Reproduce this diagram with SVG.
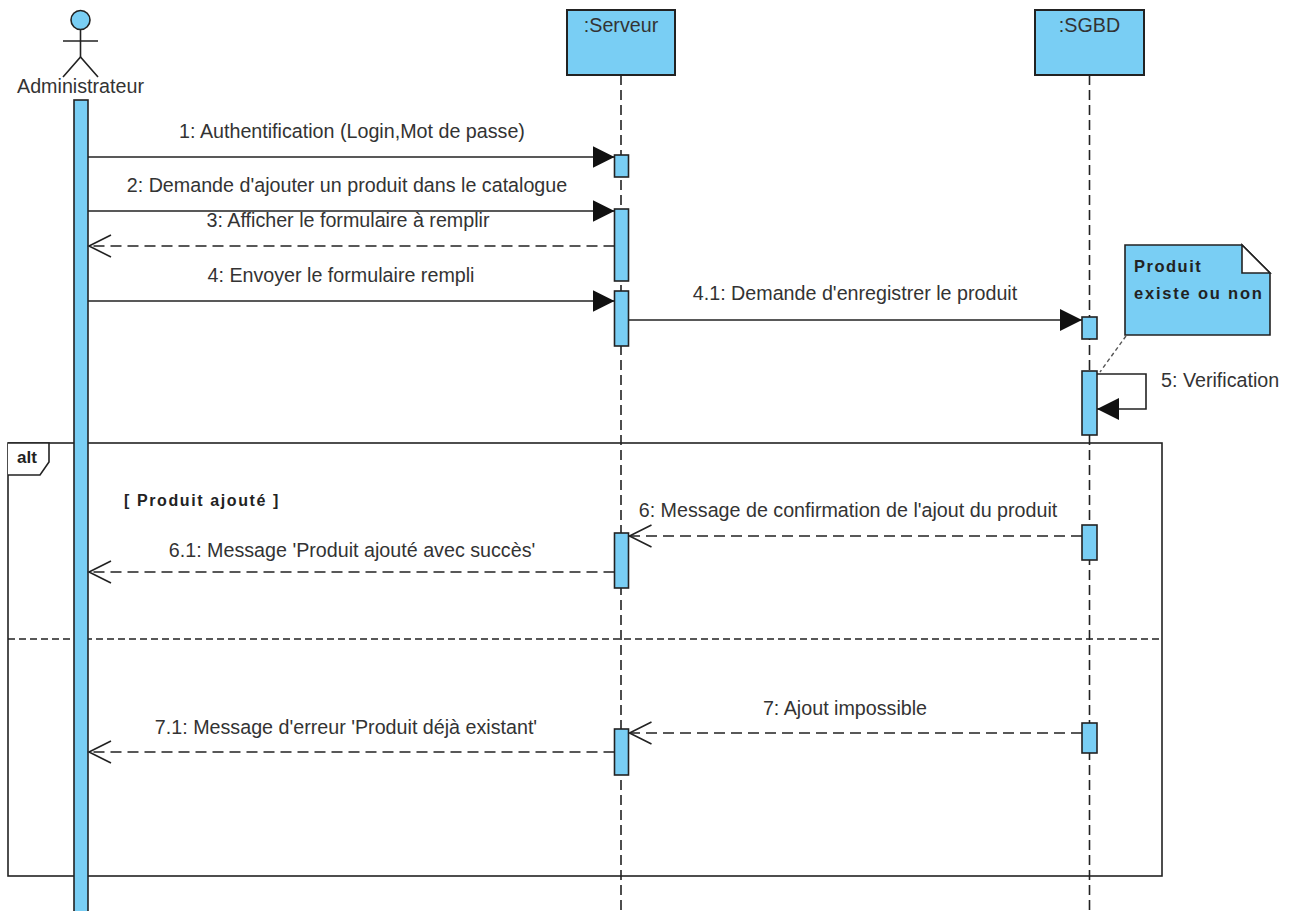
<svg xmlns="http://www.w3.org/2000/svg" width="1293" height="911" viewBox="0 0 1293 911">
<style>
.t{font-family:"Liberation Sans",Arial,sans-serif;font-size:19.7px;fill:#333}
.m{text-anchor:middle}
.b{font-family:"Liberation Sans",Arial,sans-serif;font-weight:bold;fill:#222}
.box{fill:#79CEF4;stroke:#222;stroke-width:2}
.act{fill:#79CEF4;stroke:#222;stroke-width:1.6}
.life{stroke:#222;stroke-width:1.6;stroke-dasharray:10 5;fill:none}
.msg{stroke:#222;stroke-width:1.6;fill:none}
.ret{stroke:#222;stroke-width:1.6;stroke-dasharray:11 6;fill:none}
</style>
<defs>
<marker id="fa" markerWidth="24" markerHeight="24" refX="22" refY="11" orient="auto" markerUnits="userSpaceOnUse">
<path d="M0,0 L22,11 L0,22 Z" fill="#111"/>
</marker>
<marker id="oa" markerWidth="26" markerHeight="26" refX="23" refY="12" orient="auto" markerUnits="userSpaceOnUse">
<path d="M1,1 L23,12 L1,23" fill="none" stroke="#222" stroke-width="1.6"/>
</marker>
</defs>
<rect width="1293" height="911" fill="#fff"/>

<!-- lifelines -->
<g id="lifelines">
<line class="life" x1="621" y1="75" x2="621" y2="911"/>
<line class="life" x1="1089.5" y1="75" x2="1089.5" y2="911"/>
</g>

<!-- alt frame -->
<g id="alt-frame">
<rect x="8" y="443" width="1154" height="433" fill="none" stroke="#222" stroke-width="1.6"/>
<path d="M8,443 L49,443 L49,462 L40,475 L8,475" fill="#fff" stroke="#222" stroke-width="1.6"/>
<text class="b" x="17" y="463" font-size="17">alt</text>
<line x1="8" y1="639" x2="1162" y2="639" stroke="#222" stroke-width="1.4" stroke-dasharray="7 4"/>
<text class="b" x="124" y="506" font-size="16" letter-spacing="1.6">[ Produit ajouté ]</text>
</g>

<!-- actor -->
<g id="administrateur">
<circle cx="80.5" cy="20" r="9.5" fill="#79CEF4" stroke="#222" stroke-width="1.6"/>
<line x1="80.5" y1="30" x2="80.5" y2="57" stroke="#222" stroke-width="1.6"/>
<line x1="63" y1="41" x2="98" y2="41" stroke="#222" stroke-width="1.6"/>
<path d="M63,77 L80.5,57 L98,77" fill="none" stroke="#222" stroke-width="1.6"/>
<text class="t m" x="80.5" y="93">Administrateur</text>
<rect class="act" x="74" y="100" width="14" height="815"/>
</g>

<!-- serveur -->
<g id="serveur">
<rect class="box" x="567" y="10" width="108" height="65"/>
<text class="t m" x="621" y="32">:Serveur</text>
<rect class="act" x="614.5" y="155" width="14" height="22"/>
<rect class="act" x="614.5" y="209" width="14" height="72"/>
<rect class="act" x="614.5" y="291" width="14" height="55"/>
<rect class="act" x="614.5" y="533" width="14" height="55"/>
<rect class="act" x="614.5" y="729" width="14" height="46"/>
</g>

<!-- sgbd -->
<g id="sgbd">
<rect class="box" x="1035" y="10" width="109" height="65"/>
<text class="t m" x="1089.5" y="32">:SGBD</text>
<rect class="act" x="1082" y="317" width="15" height="22"/>
<rect class="act" x="1082" y="371" width="15" height="64"/>
<rect class="act" x="1082" y="525" width="15" height="35"/>
<rect class="act" x="1082" y="723" width="15" height="30"/>
</g>

<!-- note -->
<g id="note">
<path d="M1125,245 L1242,245 L1270,273 L1270,335 L1125,335 Z" fill="#79CEF4" stroke="#222" stroke-width="1.6"/>
<path d="M1242,245 L1242,273 L1270,273 Z" fill="#fff" stroke="#222" stroke-width="1.6"/>
<text class="b" x="1134" y="272" font-size="16.5" letter-spacing="1.5">Produit</text>
<text class="b" x="1134" y="299" font-size="16.5" letter-spacing="1.8">existe ou non</text>
</g>

<!-- connectors -->
<g id="connectors">
<line x1="1126" y1="336" x2="1100" y2="372" stroke="#555" stroke-width="1.4" stroke-dasharray="4 3"/>
<line class="msg" x1="88" y1="157" x2="614.5" y2="157" marker-end="url(#fa)"/>
<line class="msg" x1="88" y1="211" x2="614.5" y2="211" marker-end="url(#fa)"/>
<line class="ret" x1="614.5" y1="246" x2="89" y2="246" marker-end="url(#oa)"/>
<line class="msg" x1="88" y1="301" x2="614.5" y2="301" marker-end="url(#fa)"/>
<line class="msg" x1="628.5" y1="320" x2="1082" y2="320" marker-end="url(#fa)"/>
<path class="msg" d="M1097,374 L1146,374 L1146,409 L1097,409" marker-end="url(#fa)"/>
<line class="ret" x1="1082" y1="536" x2="629.5" y2="536" marker-end="url(#oa)"/>
<line class="ret" x1="614.5" y1="572" x2="89" y2="572" marker-end="url(#oa)"/>
<line class="ret" x1="1082" y1="733" x2="629.5" y2="733" marker-end="url(#oa)"/>
<line class="ret" x1="614.5" y1="752" x2="89" y2="752" marker-end="url(#oa)"/>
</g>

<!-- labels -->
<g id="labels">
<text class="t m" x="352" y="138">1: Authentification (Login,Mot de passe)</text>
<text class="t m" x="347" y="192">2: Demande d'ajouter un produit dans le catalogue</text>
<text class="t m" x="348" y="227">3: Afficher le formulaire à remplir</text>
<text class="t m" x="341" y="282">4: Envoyer le formulaire rempli</text>
<text class="t m" x="855" y="300">4.1: Demande d'enregistrer le produit</text>
<text class="t" x="1161" y="387">5: Verification</text>
<text class="t m" x="848" y="517">6: Message de confirmation de l'ajout du produit</text>
<text class="t m" x="352" y="557">6.1: Message 'Produit ajouté avec succès'</text>
<text class="t m" x="845" y="715">7: Ajout impossible</text>
<text class="t m" x="346" y="734">7.1: Message d'erreur 'Produit déjà existant'</text>
</g>
</svg>
